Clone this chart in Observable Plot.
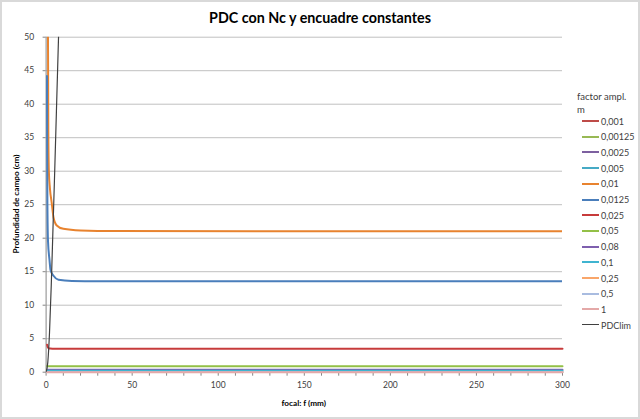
<!DOCTYPE html>
<html>
<head>
<meta charset="utf-8">
<script src="https://cdn.jsdelivr.net/npm/d3@7"></script>
<script src="https://cdn.jsdelivr.net/npm/@observablehq/plot@0.6"></script>
<style>
  html, body { margin: 0; padding: 0; background: #fff; }
  #wrap { position: relative; width: 640px; height: 419px; overflow: hidden; background: #fff; font-family: Lato, "Open Sans", sans-serif; }
  #wrap svg { position: absolute; left: 0; top: 0; background: transparent; }
  .frame { position: absolute; left: 0; top: 0; width: 640px; height: 419px; box-sizing: border-box; border: 2px solid #d9d9d9; pointer-events: none; }
  .abs { position: absolute; white-space: nowrap; color: #000; }
</style>
</head>
<body>
<div id="wrap"></div>
<script>
// ---- data ----
const chartTitle = "PDC con Nc y encuadre constantes";
const xLabel = "focal: f (mm)";
const yLabel = "Profundidad de campo (cm)";
const legendTitle = ["factor ampl.", "m"];

const legendNames  = ["0,001", "0,00125", "0,0025", "0,005", "0,01", "0,0125", "0,025", "0,05", "0,08", "0,1", "0,25", "0,5", "1", "PDClim"];
const legendColors = ["#BE4B48", "#98B954", "#7D60A0", "#46AAC5", "#E8832F", "#4A7EBB", "#C73B3B", "#93C047", "#7E5FAE", "#3FB4D0", "#F9A66A", "#A9BCE0", "#E4A9A8", "#404040"];

const xTicks = [0, 50, 100, 150, 200, 250, 300];
const xMinorTicks = [0,10,20,30,40,50,60,70,80,90,100,110,120,130,140,150,160,170,180,190,200,210,220,230,240,250,260,270,280,290,300];
const yTicks = [0, 5, 10, 15, 20, 25, 30, 35, 40, 45, 50];

// series: focal f (mm) and depth of field (cm)
const f_0_01   = [1.0, 1.1, 1.3, 1.6, 2.2, 3.3, 4.3, 6.2, 10, 20, 40, 300];
const pdc_0_01 = [70, 50, 36, 30, 27.5, 25.2, 23.1, 21.9, 21.4, 21.15, 21.06, 21.04];

const f_0_0125   = [0.5, 0.6, 0.8, 1.1, 2.0, 2.6, 4.3, 7.2, 15, 30, 300];
const pdc_0_0125 = [44.2, 33, 24, 19.6, 16.7, 15.2, 14.4, 13.8, 13.62, 13.58, 13.58];

const f_0_025   = [0.6, 0.9, 1.4, 2.4, 5, 300];
const pdc_0_025 = [4.1, 3.8, 3.6, 3.53, 3.5, 3.49];

const f_0_05   = [0.6, 2, 300];
const pdc_0_05 = [0.92, 0.88, 0.87];

const f_0_08   = [0.6, 2, 300];
const pdc_0_08 = [0.37, 0.355, 0.35];

const f_0_1   = [0.6, 2, 300];
const pdc_0_1 = [0.24, 0.23, 0.23];

const f_0_25   = [0.6, 300];
const pdc_0_25 = [0.042, 0.042];

const f_0_5   = [0.6, 300];
const pdc_0_5 = [0.013, 0.013];

const f_1   = [0.6, 300];
const pdc_1 = [0.004, 0.004];

const f_lim   = [0, 1, 2, 3, 4, 5, 6, 7, 8];
const pdc_lim = [0, 1.5, 6, 13, 21.5, 30, 39, 48, 57];

// ---- build ----
function rows(fs, vs) { return fs.map((f, i) => ({f, v: vs[i]})); }
const colorOf = name => legendColors[legendNames.indexOf(name)];

const drawn = [
  {name: "0,01",   data: rows(f_0_01, pdc_0_01), clip: true, w: 2},
  {name: "0,0125", data: rows(f_0_0125, pdc_0_0125), clip: true, w: 2},
  {name: "0,025",  data: rows(f_0_025, pdc_0_025), clip: false, w: 2},
  {name: "0,05",   data: rows(f_0_05, pdc_0_05), clip: false, w: 2},
  {name: "0,08",   data: rows(f_0_08, pdc_0_08), clip: false, w: 2},
  {name: "0,1",    data: rows(f_0_1, pdc_0_1), clip: false, w: 2},
  {name: "0,25",   data: rows(f_0_25, pdc_0_25), clip: false, w: 2},
  {name: "0,5",    data: rows(f_0_5, pdc_0_5), clip: false, w: 2},
  {name: "1",      data: rows(f_1, pdc_1), clip: false, w: 2},
  {name: "PDClim", data: rows(f_lim, pdc_lim), clip: true, w: 1.2}
];

const W = 640, H = 419;
const mL = 45.6, mR = 78, mT = 36.7, mB = 47.3;

const chart = Plot.plot({
  width: W, height: H,
  marginLeft: mL, marginRight: mR, marginTop: mT, marginBottom: mB,
  style: {background: "transparent", fontFamily: "Lato, 'Open Sans', sans-serif", color: "#404040"},
  x: {domain: [0, 300]},
  y: {domain: [0, 50]},
  marks: [
    Plot.gridY(yTicks, {stroke: "#c0c0c0", strokeOpacity: 1, strokeWidth: 1}),
    Plot.axisX(xMinorTicks, {tickSize: 4, text: null, stroke: "#868686", label: null}),
    Plot.axisX(xTicks, {tickSize: 0, tickPadding: 10, fontSize: 8.5, fill: "#404040", label: null}),
    Plot.axisY(yTicks, {tickSize: 3, tickPadding: 9, fontSize: 8.5, fill: "#404040", stroke: "#868686", label: null}),
    Plot.ruleX([0], {stroke: "#868686", strokeWidth: 1}),
    Plot.ruleY([0], {stroke: "#868686", strokeWidth: 1}),
    ...drawn.map(s => Plot.line(s.data, {
      x: "f", y: "v", stroke: colorOf(s.name), strokeWidth: s.w,
      curve: "monotone-x", clip: s.clip
    }))
  ]
});

const wrap = document.getElementById("wrap");
wrap.appendChild(chart);

function addText(txt, css) {
  const d = document.createElement("div");
  d.className = "abs";
  d.textContent = txt;
  Object.assign(d.style, css);
  wrap.appendChild(d);
  return d;
}

// title
addText(chartTitle, {left: "0px", width: "640px", textAlign: "center", top: "8px", fontSize: "14.3px", fontWeight: "bold", lineHeight: "20px"});
// x label
addText(xLabel, {left: (mL) + "px", width: (W - mL - mR) + "px", textAlign: "center", top: "397px", fontSize: "8.2px", fontWeight: "bold", lineHeight: "13px"});
// y label (rotated)
addText(yLabel, {left: "16px", top: ((mT + (H - mB)) / 2) + "px", fontSize: "8.2px", fontWeight: "bold", lineHeight: "11px",
  transform: "translate(-50%, -50%) rotate(-90deg)", transformOrigin: "center center"});

// legend
addText(legendTitle[0], {left: "577px", top: "90px", fontSize: "9.5px", lineHeight: "14px", color: "#404040"});
addText(legendTitle[1], {left: "577px", top: "103px", fontSize: "9.5px", lineHeight: "14px", color: "#404040"});
legendNames.forEach((name, i) => {
  const y = 121 + i * 15.7;
  const ln = document.createElement("div");
  Object.assign(ln.style, {position: "absolute", left: "582px", top: (y - 1) + "px", width: "17px",
    height: (name === "PDClim" ? 1.4 : 2) + "px", background: legendColors[i]});
  wrap.appendChild(ln);
  addText(name, {left: "601px", top: (y - 6.5) + "px", fontSize: "9px", lineHeight: "13px", color: "#404040"});
});

const fr = document.createElement("div");
fr.className = "frame";
wrap.appendChild(fr);
</script>
</body>
</html>
